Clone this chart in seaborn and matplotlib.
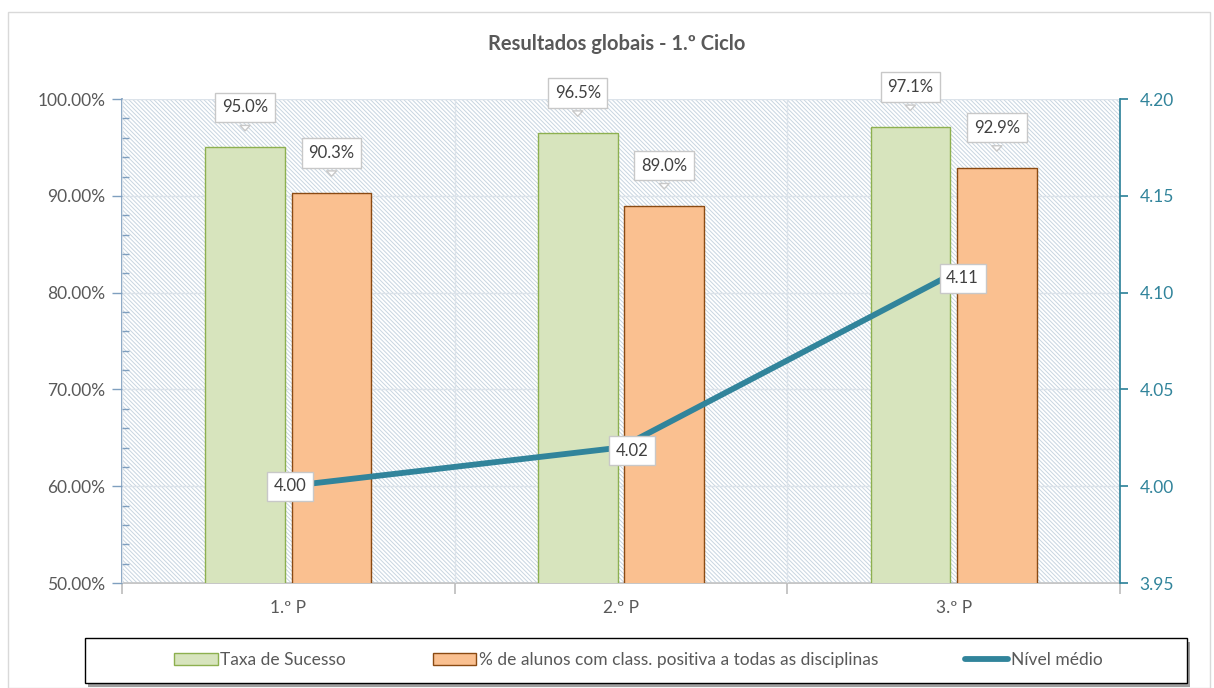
import numpy as np
import pandas as pd
import matplotlib
matplotlib.use("Agg")
import matplotlib.pyplot as plt
import seaborn as sns
from matplotlib.patches import Patch, Rectangle
from matplotlib.lines import Line2D
from matplotlib.ticker import MultipleLocator, FixedLocator, FuncFormatter

# data
periodos = ["1.º P", "2.º P", "3.º P"]
taxa_sucesso = [95.0, 96.5, 97.1]
positiva_todas = [90.3, 89.0, 92.9]
nivel_medio = [4.00, 4.02, 4.11]
series = ["Taxa de Sucesso", "% de alunos com class. positiva a todas as disciplinas"]

df = pd.DataFrame({
    "periodo": periodos * 2,
    "serie": [series[0]] * 3 + [series[1]] * 3,
    "valor": taxa_sucesso + positiva_todas,
})

verde, verde_borda = "#D7E4BD", "#8DB04F"
laranja, laranja_borda = "#FAC090", "#8A4A12"
azul = "#31849B"
cinza = "#595959"

sns.set_theme(style="white")
plt.rcParams["font.family"] = ["Lato", "DejaVu Sans"]
plt.rcParams["hatch.linewidth"] = 0.7

fig = plt.figure(figsize=(12.14, 6.88), dpi=100)
ax = fig.add_axes([0.1005, 0.1526, 0.822, 0.7034])

# hatched background
ax.add_patch(Rectangle((0, 0), 1, 1, transform=ax.transAxes, facecolor="white",
                       edgecolor="#C8D5E0", hatch="\\" * 8, lw=0, zorder=0))

sns.barplot(data=df, x="periodo", y="valor", hue="serie", palette=[verde, laranja],
            width=0.52, gap=0.08, ax=ax, zorder=3, saturation=1)
for cont, ec in zip(ax.containers, [verde_borda, laranja_borda]):
    for b in cont:
        b.set_edgecolor(ec)
        b.set_linewidth(1)
ax.get_legend().remove()

ax.set_ylim(50, 100)
ax.set_xlim(-0.5, 2.5)
ax.yaxis.set_major_locator(MultipleLocator(10))
ax.yaxis.set_minor_locator(MultipleLocator(2))
ax.yaxis.set_major_formatter(FuncFormatter(lambda v, p: f"{v:.2f}%"))
ax.tick_params(axis="y", which="major", direction="out", length=7, width=1,
               color="#7F9FBF", labelsize=12.5, labelcolor=cinza, pad=5, left=True)
ax.tick_params(axis="y", which="minor", direction="in", length=5, width=1,
               color="#7F9FBF", left=True)
ax.xaxis.set_major_locator(FixedLocator([-0.5, 0.5, 1.5, 2.5]))
ax.xaxis.set_minor_locator(FixedLocator([0, 1, 2]))
ax.set_xticklabels([], minor=False)
ax.set_xticklabels(periodos, minor=True)
ax.tick_params(axis="x", which="major", direction="out", length=8, color="#BFBFBF",
               bottom=True)
ax.tick_params(axis="x", which="minor", length=0, labelsize=12.5, labelcolor=cinza, pad=12)
ax.grid(True, which="major", color="#DCE3EA", lw=1, zorder=1)
ax.set_axisbelow(False)
for gl in ax.get_xgridlines() + ax.get_ygridlines():
    gl.set_zorder(1)
ax.set_xlabel("")
ax.set_ylabel("")
for s in ["top", "right"]:
    ax.spines[s].set_visible(False)
ax.spines["left"].set_color("#7F9FBF")
ax.spines["bottom"].set_color("#BFBFBF")

# bar labels with callouts
def callout(axis, x, y, txt, dy):
    axis.annotate(txt, xy=(x, y), xytext=(0, dy), textcoords="offset pixels",
                  ha="center", va="center", fontsize=12, color="#404040", zorder=6,
                  bbox=dict(boxstyle="square,pad=0.4", fc="white", ec="#C8C8C8", lw=1),
                  arrowprops=dict(arrowstyle="wedge,tail_width=0.6", fc="white",
                                  ec="#C8C8C8", lw=1, shrinkB=12))

for cont, vals in zip(ax.containers, [taxa_sucesso, positiva_todas]):
    for b, v in zip(cont, vals):
        callout(ax, b.get_x() + b.get_width() / 2, v, f"{v:.1f}%", 40)

# secondary axis: nível médio
ax2 = ax.twinx()
sns.lineplot(x=np.arange(len(periodos)), y=nivel_medio, ax=ax2, color=azul,
             lw=4.2, zorder=4)
ax2.set_ylim(3.95, 4.20)
ax2.yaxis.set_major_locator(MultipleLocator(0.05))
ax2.yaxis.set_major_formatter(FuncFormatter(lambda v, p: f"{v:.2f}"))
ax2.tick_params(axis="y", direction="out", length=6, color=azul, labelsize=12.5,
                labelcolor=azul, pad=8, right=True)
for s in ["top", "left", "bottom"]:
    ax2.spines[s].set_visible(False)
ax2.spines["right"].set_color(azul)
ax2.set_xlim(-0.5, 2.5)

desloc = [(2, 0), (11, -3), (9, -5)]
for i, (v, (dx, dy)) in enumerate(zip(nivel_medio, desloc)):
    ax2.annotate(f"{v:.2f}", xy=(i, v), xytext=(dx, dy), textcoords="offset pixels",
                 ha="center", va="center", fontsize=12, color="#404040", zorder=6,
                 bbox=dict(boxstyle="square,pad=0.4", fc="white", ec="#C8C8C8", lw=1))

fig.text(0.508, 0.936, "Resultados globais - 1.º Ciclo", ha="center", va="center",
         fontsize=14.5, fontweight="bold", color=cinza)

# legend box with shadow, legend itself frameless and centred
fig.add_artist(Rectangle((0.0725, 0.002), 0.908, 0.065, transform=fig.transFigure,
                         fc="#A0A0A0", ec="none", zorder=1))
fig.add_artist(Rectangle((0.07, 0.007), 0.908, 0.065, transform=fig.transFigure,
                         fc="white", ec="black", lw=1, zorder=2))
handles = [Patch(facecolor=verde, edgecolor=verde_borda),
           Patch(facecolor=laranja, edgecolor=laranja_borda),
           Line2D([0], [0], color=azul, lw=4.2)]
leg = fig.legend(handles, series + ["Nível médio"], ncol=3, loc="center",
                 bbox_to_anchor=(0.526, 0.04), frameon=False, fontsize=12.5,
                 handlelength=2.5, handletextpad=0.15, columnspacing=5.0)
leg.set_zorder(3)
for t in leg.get_texts():
    t.set_color(cinza)

# outer chart border
fig.add_artist(Rectangle((0.0066, 0.0), 0.99, 0.982, transform=fig.transFigure,
                         fill=False, ec="#D9D9D9", lw=1))

fig.savefig("out.png", dpi=100)
